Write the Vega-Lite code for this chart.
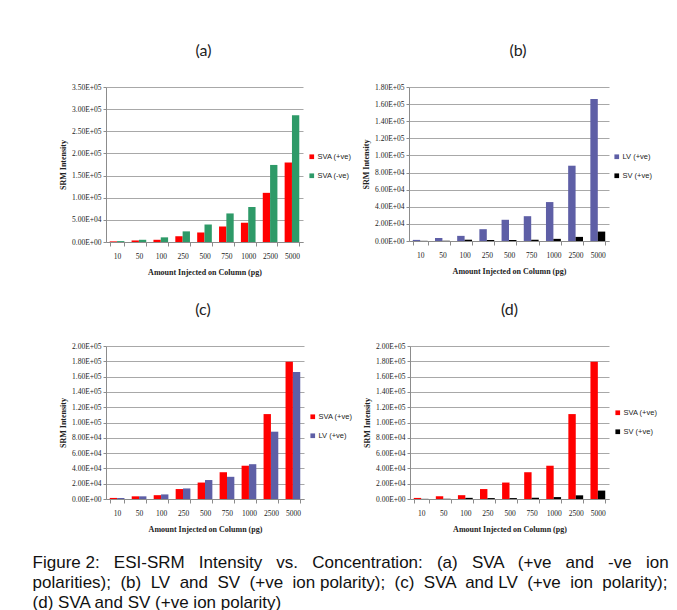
{
  "$schema": "https://vega.github.io/schema/vega-lite/v6.json",
  "padding": {"left": 32, "top": 43, "right": 5, "bottom": 5},
  "background": "white",
  "datasets": {
    "srm": [
      {"amount": 10, "series": "SVA (+ve)", "value": 1400},
      {"amount": 50, "series": "SVA (+ve)", "value": 3500},
      {"amount": 100, "series": "SVA (+ve)", "value": 5000},
      {"amount": 250, "series": "SVA (+ve)", "value": 13000},
      {"amount": 500, "series": "SVA (+ve)", "value": 21500},
      {"amount": 750, "series": "SVA (+ve)", "value": 35000},
      {"amount": 1000, "series": "SVA (+ve)", "value": 43500},
      {"amount": 2500, "series": "SVA (+ve)", "value": 111000},
      {"amount": 5000, "series": "SVA (+ve)", "value": 179500},
      {"amount": 10, "series": "SVA (-ve)", "value": 2000},
      {"amount": 50, "series": "SVA (-ve)", "value": 5000},
      {"amount": 100, "series": "SVA (-ve)", "value": 10500},
      {"amount": 250, "series": "SVA (-ve)", "value": 24000},
      {"amount": 500, "series": "SVA (-ve)", "value": 39500},
      {"amount": 750, "series": "SVA (-ve)", "value": 64500},
      {"amount": 1000, "series": "SVA (-ve)", "value": 79000},
      {"amount": 2500, "series": "SVA (-ve)", "value": 174000},
      {"amount": 5000, "series": "SVA (-ve)", "value": 286000},
      {"amount": 10, "series": "LV (+ve)", "value": 1300},
      {"amount": 50, "series": "LV (+ve)", "value": 3500},
      {"amount": 100, "series": "LV (+ve)", "value": 6000},
      {"amount": 250, "series": "LV (+ve)", "value": 13800},
      {"amount": 500, "series": "LV (+ve)", "value": 24800},
      {"amount": 750, "series": "LV (+ve)", "value": 29000},
      {"amount": 1000, "series": "LV (+ve)", "value": 45500},
      {"amount": 2500, "series": "LV (+ve)", "value": 88000},
      {"amount": 5000, "series": "LV (+ve)", "value": 166000},
      {"amount": 10, "series": "SV (+ve)", "value": 200},
      {"amount": 50, "series": "SV (+ve)", "value": 300},
      {"amount": 100, "series": "SV (+ve)", "value": 1500},
      {"amount": 250, "series": "SV (+ve)", "value": 1200},
      {"amount": 500, "series": "SV (+ve)", "value": 1200},
      {"amount": 750, "series": "SV (+ve)", "value": 1600},
      {"amount": 1000, "series": "SV (+ve)", "value": 2500},
      {"amount": 2500, "series": "SV (+ve)", "value": 4800},
      {"amount": 5000, "series": "SV (+ve)", "value": 11000}
    ]
  },
  "config": {
    "view": {"stroke": null},
    "font": "Liberation Serif",
    "axis": {
      "labelFont": "Liberation Serif", "labelFontSize": 7.5, "labelColor": "#222",
      "titleFont": "Liberation Serif", "titleFontSize": 8, "titleFontWeight": "bold", "titleColor": "#222",
      "domainColor": "#8c8c8c", "tickColor": "#8c8c8c", "gridColor": "#a8a8a8"
    },
    "axisY": {"tickSize": 3, "labelPadding": 2, "titlePadding": 4, "grid": true},
    "axisX": {"grid": false, "tickBand": "extent", "labelAngle": 0, "tickSize": 4, "labelPadding": 6, "titlePadding": 9},
    "legend": {
      "orient": "none", "title": null, "symbolType": "square", "symbolSize": 22,
      "symbolStrokeWidth": 0, "labelFont": "Liberation Sans", "labelFontSize": 7.5,
      "labelColor": "#222", "rowPadding": 10, "labelOffset": 2
    },
    "title": {"font": "Lato", "fontSize": 16, "fontWeight": "normal", "color": "#222", "offset": 24, "frame": "group"},
    "bar": {"stroke": null}
  },
  "spacing": 25,
  "title": {
    "text": [
      "Figure 2: \u00a0\u00a0ESI-SRM \u00a0\u00a0Intensity \u00a0\u00a0vs. \u00a0\u00a0Concentration: \u00a0\u00a0(a) \u00a0\u00a0SVA \u00a0\u00a0(+ve \u00a0\u00a0and \u00a0\u00a0-ve \u00a0\u00a0ion",
      "polarities); \u00a0(b) \u00a0LV \u00a0and \u00a0SV \u00a0(+ve \u00a0ion polarity); \u00a0(c) \u00a0SVA \u00a0and LV \u00a0(+ve \u00a0ion \u00a0polarity);",
      "(d) SVA and SV (+ve ion polarity)"
    ],
    "orient": "bottom", "anchor": "start", "frame": "bounds", "dx": -27, "offset": 21,
    "font": "Liberation Sans", "fontSize": 17, "fontWeight": "normal", "color": "#111",
    "lineHeight": 20
  },
  "vconcat": [
    {
      "hconcat": [
        {
          "title": {"text": "(a)", "dx": -1},
          "width": 197, "height": 155,
          "data": {"name": "srm"},
          "transform": [{"filter": {"field": "series", "oneOf": ["SVA (+ve)", "SVA (-ve)"]}}],
          "mark": {"type": "bar"},
          "encoding": {
            "x": {"field": "amount", "type": "ordinal", "title": "Amount Injected on Column (pg)", "scale": {"paddingInner": 0.33, "paddingOuter": 0.17}},
            "xOffset": {"field": "series", "scale": {"domain": ["SVA (+ve)", "SVA (-ve)"]}},
            "y": {"field": "value", "type": "quantitative", "title": "SRM  Intensity", "scale": {"domain": [0, 350000]},
                  "axis": {"values": [0, 50000, 100000, 150000, 200000, 250000, 300000, 350000], "labelExpr": "replace(upper(format(datum.value, '.2e')), 'E+', 'E+0')"}},
            "color": {"field": "series", "scale": {"domain": ["SVA (+ve)", "SVA (-ve)"], "range": ["#ff0000", "#2e9a68"]},
                      "legend": {"legendX": 202, "legendY": 66}}
          }
        },
        {
          "title": {"text": "(b)", "dx": 9},
          "width": 200, "height": 154,
          "data": {"name": "srm"},
          "transform": [{"filter": {"field": "series", "oneOf": ["LV (+ve)", "SV (+ve)"]}}],
          "mark": {"type": "bar"},
          "encoding": {
            "x": {"field": "amount", "type": "ordinal", "title": "Amount Injected on Column (pg)", "scale": {"paddingInner": 0.33, "paddingOuter": 0.17}},
            "xOffset": {"field": "series", "scale": {"domain": ["LV (+ve)", "SV (+ve)"]}},
            "y": {"field": "value", "type": "quantitative", "title": "SRM  Intensity", "scale": {"domain": [0, 180000]},
                  "axis": {"values": [0, 20000, 40000, 60000, 80000, 100000, 120000, 140000, 160000, 180000], "labelExpr": "replace(upper(format(datum.value, '.2e')), 'E+', 'E+0')"}},
            "color": {"field": "series", "scale": {"domain": ["LV (+ve)", "SV (+ve)"], "range": ["#5e5fa6", "#000000"]},
                      "legend": {"legendX": 204, "legendY": 66}}
          }
        }
      ],
      "spacing": 106,
      "bounds": "flush",
      "resolve": {"scale": {"color": "independent", "xOffset": "independent"}}
    },
    {
      "hconcat": [
        {
          "title": {"text": "(c)", "dx": -2},
          "width": 198, "height": 153,
          "data": {"name": "srm"},
          "transform": [{"filter": {"field": "series", "oneOf": ["SVA (+ve)", "LV (+ve)"]}}],
          "mark": {"type": "bar"},
          "encoding": {
            "x": {"field": "amount", "type": "ordinal", "title": "Amount Injected on Column (pg)", "scale": {"paddingInner": 0.33, "paddingOuter": 0.17}},
            "xOffset": {"field": "series", "scale": {"domain": ["SVA (+ve)", "LV (+ve)"]}},
            "y": {"field": "value", "type": "quantitative", "title": "SRM  Intensity", "scale": {"domain": [0, 200000]},
                  "axis": {"values": [0, 20000, 40000, 60000, 80000, 100000, 120000, 140000, 160000, 180000, 200000], "labelExpr": "replace(upper(format(datum.value, '.2e')), 'E+', 'E+0')"}},
            "color": {"field": "series", "scale": {"domain": ["SVA (+ve)", "LV (+ve)"], "range": ["#ff0000", "#5e5fa6"]},
                      "legend": {"legendX": 203, "legendY": 67}}
          }
        },
        {
          "title": {"text": "(d)", "dx": 0},
          "width": 199, "height": 153,
          "data": {"name": "srm"},
          "transform": [{"filter": {"field": "series", "oneOf": ["SVA (+ve)", "SV (+ve)"]}}],
          "mark": {"type": "bar"},
          "encoding": {
            "x": {"field": "amount", "type": "ordinal", "title": "Amount Injected on Column (pg)", "scale": {"paddingInner": 0.33, "paddingOuter": 0.17}},
            "xOffset": {"field": "series", "scale": {"domain": ["SVA (+ve)", "SV (+ve)"]}},
            "y": {"field": "value", "type": "quantitative", "title": "SRM  Intensity", "scale": {"domain": [0, 200000]},
                  "axis": {"values": [0, 20000, 40000, 60000, 80000, 100000, 120000, 140000, 160000, 180000, 200000], "labelExpr": "replace(upper(format(datum.value, '.2e')), 'E+', 'E+0')"}},
            "color": {"field": "series", "scale": {"domain": ["SVA (+ve)", "SV (+ve)"], "range": ["#ff0000", "#000000"]},
                      "legend": {"legendX": 204, "legendY": 63}}
          }
        }
      ],
      "spacing": 106,
      "bounds": "flush",
      "resolve": {"scale": {"color": "independent", "xOffset": "independent"}}
    }
  ],
  "resolve": {"scale": {"color": "independent", "xOffset": "independent"}}
}
